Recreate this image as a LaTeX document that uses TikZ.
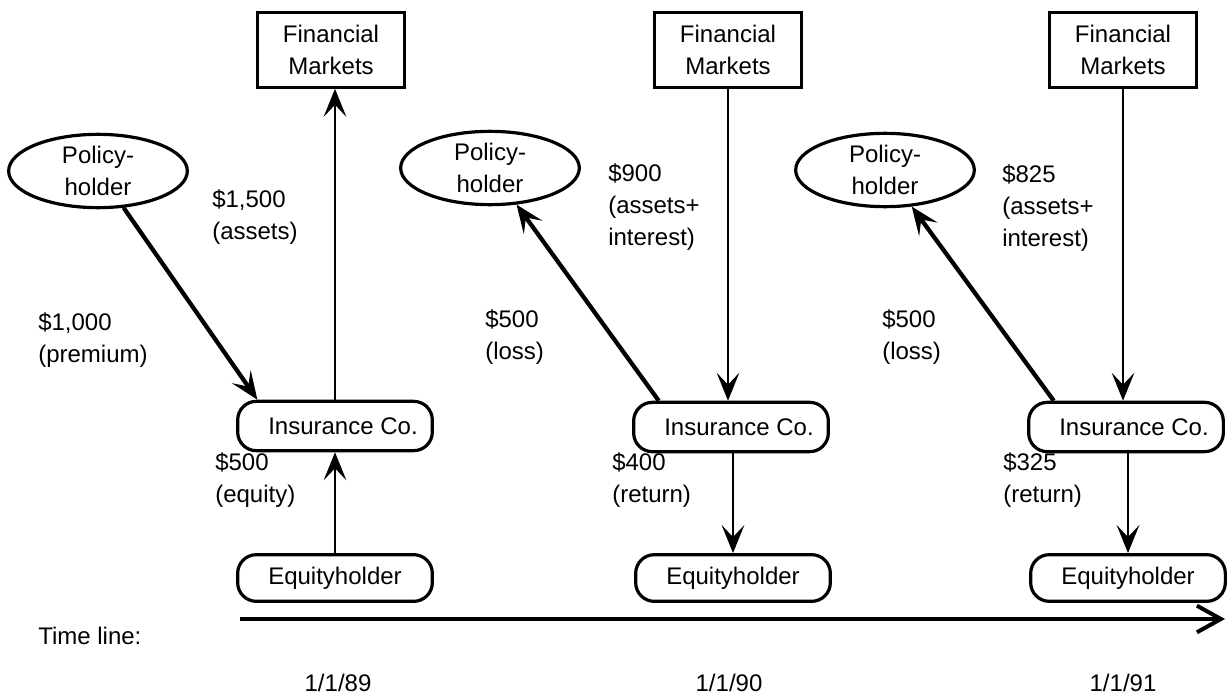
\documentclass[tikz,border=0pt]{standalone}
\usepackage{fontspec}
\setmainfont{Liberation Sans}
\usetikzlibrary{arrows.meta,shapes.geometric}

\begin{document}
\begin{tikzpicture}[x=0.75pt,y=0.75pt,yscale=-1,xscale=1,
  font=\fontsize{18}{24}\selectfont,
  >={Stealth[length=21pt,width=17pt,inset=9pt]},
  fmbox/.style={draw,line width=2.2pt,minimum width=110pt,minimum height=56pt,align=center,inner sep=2pt},
  phell/.style={draw,ellipse,line width=2.4pt,minimum width=134pt,minimum height=55pt,align=center,inner sep=0pt},
  cobox/.style={draw,rounded corners=14pt,line width=2.4pt,minimum width=146pt,minimum height=37pt,inner sep=2pt},
  flowthick/.style={->,line width=3.2pt},
  flowthin/.style={->,line width=1.8pt},
  lbl/.style={anchor=west,align=left,inner sep=0pt}]
%set diagram size 1227 x 699
\useasboundingbox (0,0) rectangle (1227,699);

% Financial markets
\node[fmbox] (fm1) at (331,50) {Financial\\Markets};
\node[fmbox] (fm2) at (728,50) {Financial\\Markets};
\node[fmbox] (fm3) at (1123,50) {Financial\\Markets};

% Policyholders
\node[phell] (ph1) at (98,171) {Policy-\\holder};
\node[phell] (ph2) at (490,168) {Policy-\\holder};
\node[phell] (ph3) at (885,170) {Policy-\\holder};

% Insurance companies
\node[cobox] (ic1) at (335,426) {\hspace*{12pt}Insurance Co.};
\node[cobox] (ic2) at (731,427) {\hspace*{12pt}Insurance Co.};
\node[cobox] (ic3) at (1126,427) {\hspace*{12pt}Insurance Co.};

% Equityholders
\node[cobox,minimum height=35pt] (eq1) at (335,578) {Equityholder};
\node[cobox,minimum height=35pt] (eq2) at (733,578) {Equityholder};
\node[cobox,minimum height=35pt] (eq3) at (1128,578) {Equityholder};

% 1/1/89
\draw[flowthick] (ph1) -- ([xshift=16pt]ic1.north west);
\draw[flowthin] (ic1.north) -- (ic1.north |- fm1.south);
\draw[flowthin] (eq1.north) -- (ic1.south);
% 1/1/90
\draw[flowthin] (fm2.south) -- (fm2.south |- ic2.north);
\draw[flowthick] ([xshift=20pt]ic2.north west) -- (ph2);
\draw[flowthin] (ic2.south -| eq2.north) -- (eq2.north);
% 1/1/91
\draw[flowthin] (fm3.south) -- (fm3.south |- ic3.north);
\draw[flowthick] ([xshift=20pt]ic3.north west) -- (ph3);
\draw[flowthin] (ic3.south -| eq3.north) -- (eq3.north);

% Text Node
\node[lbl] (a1) at (212,217) {\$1,500\\(assets)};
\node[lbl] (p1) at (38,340) {\$1,000\\(premium)};
\node[lbl] (e1) at (215,480) {\$500\\(equity)};
\node[lbl] (a2) at (608,207) {\$900\\(assets+\\interest)};
\node[lbl] (l2) at (485,337) {\$500\\(loss)};
\node[lbl] (r2) at (612,480) {\$400\\(return)};
\node[lbl] (a3) at (1002,208) {\$825\\(assets+\\interest)};
\node[lbl] (l3) at (882,337) {\$500\\(loss)};
\node[lbl] (r3) at (1003,480) {\$325\\(return)};

% Time line
\node[lbl] (tl) at (38,636) {Time line:};
\coordinate (tstart) at (240,619);
\coordinate (tend) at (1225,619);
\draw[line width=3pt,-{Straight Barb[length=18pt,width=20pt]}] (tstart) -- (tend);
\node (d1) at (338,683) {1/1/89};
\node (d2) at (729,683) {1/1/90};
\node (d3) at (1123,683) {1/1/91};

\end{tikzpicture}
\end{document}
